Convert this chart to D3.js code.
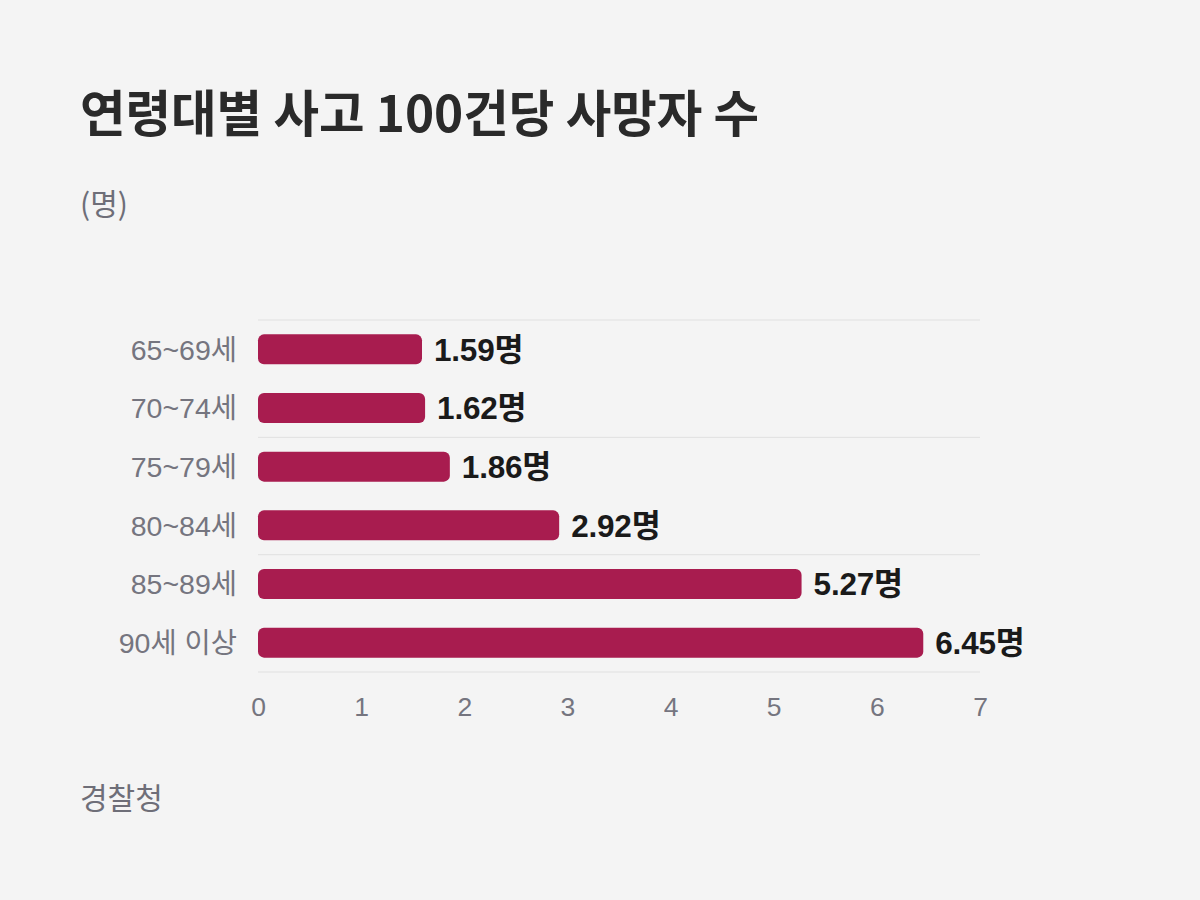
<!DOCTYPE html>
<html><head><meta charset="utf-8">
<script src="https://cdn.jsdelivr.net/npm/d3@7"></script>
<style>
html,body{margin:0;padding:0;background:#f4f4f4;}
svg{display:block;}
</style></head>
<body>
<svg id="chart" width="1200" height="900"></svg>
<script>
const categories = ["65~69세","70~74세","75~79세","80~84세","85~89세","90세 이상"];
const values = [1.59,1.62,1.86,2.92,5.27,6.45];
const valueLabels = ["1.59명","1.62명","1.86명","2.92명","5.27명","6.45명"];
const xTicks = [0,1,2,3,4,5,6,7];
const title = "연령대별 사고 100건당 사망자 수";
const unit = "(명)";
const source = "경찰청";

const svg = d3.select("#chart");
svg.append("rect").attr("width",1200).attr("height",900).attr("fill","#f4f4f4");

const x = d3.scaleLinear().domain([0,7]).range([258,980]);
const y = d3.scaleBand().domain(categories).range([320,672]).paddingInner(0.49).paddingOuter(0.245);
const step = y.step();

svg.append("text").attr("x",80).attr("y",132).text(title)
  .attr("font-family","'Noto Sans CJK KR'").attr("font-weight",700).attr("font-size",49.5)
  .attr("fill","#2a2a2a");
svg.append("text").attr("x",80).attr("y",215).text(unit)
  .attr("font-family","'Noto Sans CJK KR'").attr("font-size",30).attr("fill","#6e6e78");
svg.append("text").attr("x",80).attr("y",809).text(source)
  .attr("font-family","'Noto Sans CJK KR'").attr("font-size",30).attr("fill","#6e6e78");

// gridlines at every other band boundary
const gridYs = [0,2,4,6].map(i => 320 + i*step);
svg.append("g").selectAll("line").data(gridYs).join("line")
  .attr("x1",258).attr("x2",980).attr("y1",d=>d).attr("y2",d=>d)
  .attr("stroke","#e0e0e0").attr("stroke-width",1);

svg.append("g").selectAll("rect").data(values).join("rect")
  .attr("x",x(0)).attr("y",(d,i)=>y(categories[i]))
  .attr("width",d=>x(d)-x(0)).attr("height",y.bandwidth())
  .attr("rx",6).attr("fill","#a81c4f");

svg.append("g").selectAll("text").data(values).join("text")
  .attr("x",d=>x(d)+12).attr("y",(d,i)=>y(categories[i])+y.bandwidth()/2)
  .attr("dy","0.36em").text((d,i)=>valueLabels[i])
  .attr("font-family","'Liberation Sans','Noto Sans CJK KR'").attr("font-weight",700)
  .attr("font-size",31.5).attr("letter-spacing",-0.2).attr("fill","#1a1a1a");

svg.append("g").selectAll("text").data(categories).join("text")
  .attr("x",237).attr("y",d=>y(d)+y.bandwidth()/2).attr("dy","0.36em")
  .attr("text-anchor","end").text(d=>d)
  .attr("font-family","'Liberation Sans','Noto Sans CJK KR'").attr("font-size",28.5)
  .attr("fill","#75757f");

const xAxis = svg.append("g").attr("transform","translate(0,672)")
  .call(d3.axisBottom(x).tickValues(xTicks).tickSize(0).tickPadding(25).tickFormat(d3.format("d")));
xAxis.select(".domain").remove();
xAxis.selectAll("text").attr("font-family","'Liberation Sans'").attr("font-size",26.5).attr("fill","#75757f");
</script>
</body></html>
